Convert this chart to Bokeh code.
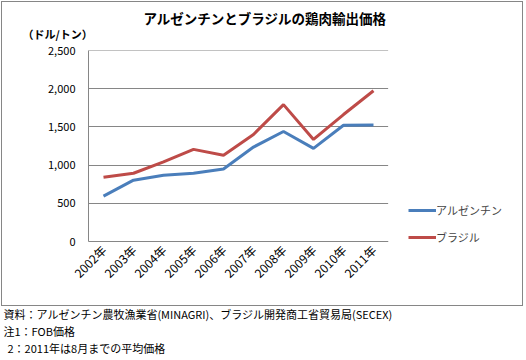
from bokeh.plotting import figure
from bokeh.models import (FactorRange, Range1d, FixedTicker, NumeralTickFormatter,
                          Legend, LegendItem, ColumnDataSource, Title)
from bokeh.embed import file_html
from bokeh.resources import INLINE
import math

years = ["2002年", "2003年", "2004年", "2005年", "2006年",
         "2007年", "2008年", "2009年", "2010年", "2011年"]
argentina = [595, 803, 868, 894, 950, 1237, 1441, 1220, 1523, 1527]
brazil = [842, 894, 1042, 1207, 1129, 1402, 1793, 1337, 1663, 1975]
y_ticks = [0, 500, 1000, 1500, 2000, 2500]

title_text = "アルゼンチンとブラジルの鶏肉輸出価格"
unit_text = "（ドル/トン）"
series_names = ["アルゼンチン", "ブラジル"]
notes = [
    "資料：アルゼンチン農牧漁業省(MINAGRI)、ブラジル開発商工省貿易局(SECEX)",
    "注1：FOB価格",
    "2：2011年は8月までの平均価格",
]

FONT = "Noto Sans CJK JP"
GRAY = "#868686"
G = "linear-gradient(%s,%s)" % (GRAY, GRAY)
W, H = 526, 358

frame_styles = {
    "background-image": ",".join([G] * 4),
    "background-size": "522px 1px, 1px 305px, 1px 305px, 522px 1px",
    "background-position": "1px 1px, 1px 1px, 522px 1px, 1px 305px",
    "background-repeat": "no-repeat",
}

src = ColumnDataSource(dict(x=years, arg=argentina, bra=brazil))
p = figure(width=W, height=H, frame_width=300, frame_height=191,
           output_backend="svg", toolbar_location=None,
           x_range=FactorRange(*years), y_range=Range1d(0, 2502),
           min_border_left=88, min_border_right=W - 388, min_border_top=50,
           min_border_bottom=H - 241, styles=frame_styles)
p.background_fill_color = "white"
p.border_fill_alpha = 0
p.outline_line_color = None

r1 = p.line("x", "arg", source=src, line_color="#4A7EBB", line_width=3)
r2 = p.line("x", "bra", source=src, line_color="#BE4B48", line_width=3)

p.xgrid.grid_line_color = None
p.ygrid.grid_line_color = GRAY
p.ygrid.grid_line_width = 1

p.yaxis.ticker = FixedTicker(ticks=y_ticks)
p.yaxis.formatter = NumeralTickFormatter(format="0,0")
p.yaxis.major_tick_line_color = None
p.yaxis.minor_tick_line_color = None
p.yaxis.major_tick_out = 0
p.yaxis.axis_line_color = GRAY
p.yaxis.major_label_standoff = 13
p.yaxis.major_label_text_font = FONT
p.yaxis.major_label_text_font_size = "11px"
p.yaxis.major_label_text_color = "black"

p.xaxis.major_tick_line_color = None
p.xaxis.major_tick_out = 0
p.xaxis.axis_line_color = GRAY
p.xaxis.major_label_orientation = math.pi / 4
p.xaxis.major_label_standoff = 6
p.xaxis.major_label_text_font = FONT
p.xaxis.major_label_text_font_size = "12px"
p.xaxis.major_label_text_color = "black"


def mk_title(text, size, bold, offset, standoff):
    t = Title(text=text, align="left", vertical_align="top", offset=offset,
              text_font=FONT, text_font_size=size,
              text_font_style="bold" if bold else "normal", text_color="black")
    try:
        t.standoff = standoff
    except Exception:
        t.standoff = 0
    return t

# above: first added sits next to the frame, last added on top
p.add_layout(mk_title(unit_text, "11px", True, -66, 13.4), "above")
p.add_layout(mk_title(title_text, "13.5px", True, 55, -20), "above")

# invisible spacer line between the x axis and the notes
p.add_layout(mk_title("\u200b", "11px", False, 0, -0.9), "below")

for t, off in zip(notes, [-85, -85, -81]):
    p.add_layout(mk_title(t, "11px", False, off, -0.9), "below")

legend = Legend(items=[LegendItem(label=series_names[0], renderers=[r1]),
                       LegendItem(label=series_names[1], renderers=[r2])],
                location="top_left", title=" ", title_text_font_size="12px",
                title_standoff=116,
                glyph_width=28, glyph_height=20, label_height=20,
                spacing=7, padding=19, margin=0,
                border_line_color="white", border_line_width=1,
                background_fill_alpha=0, label_text_font=FONT,
                label_text_font_size="11px", label_standoff=0)
p.add_layout(legend, "right")

open("out.html", "w").write(file_html(p, INLINE))
